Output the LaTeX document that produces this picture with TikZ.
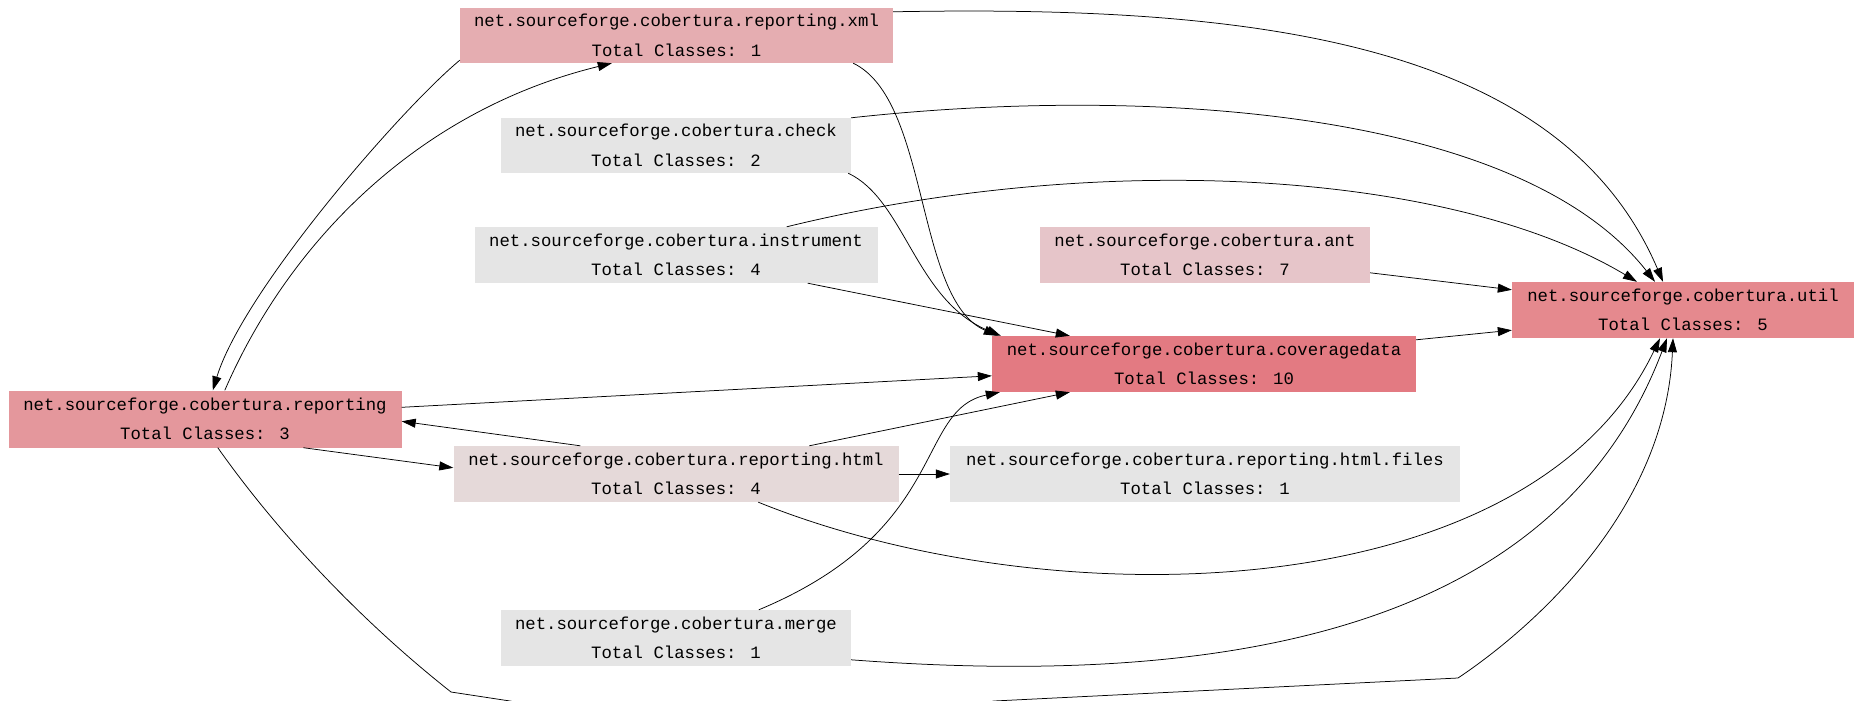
\documentclass[tikz,border=0pt]{standalone}
\usepackage{fontspec}
\newfontfamily\gvmono{Liberation Mono}
\usetikzlibrary{arrows.meta,calc}
\definecolor{cxml}{HTML}{E5ADB1}
\definecolor{cgrey}{HTML}{E5E5E5}
\definecolor{cant}{HTML}{E6C5C9}
\definecolor{cutil}{HTML}{E5898E}
\definecolor{ccov}{HTML}{E37A82}
\definecolor{crep}{HTML}{E4979C}
\definecolor{chtml}{HTML}{E5D9D9}
\begin{document}
\begin{tikzpicture}[x=1pt,y=-1pt,
  pkg/.style={rectangle, inner sep=0pt, minimum height=56pt, align=center,
    text=black, font={\gvmono\fontsize{17.3}{29.5}\selectfont}},
  dep/.style={draw=black, line width=0.75pt, -{Triangle[length=14pt,width=9pt]}}]
\clip (0,0) rectangle (1855,701);
\fill[white] (0,0) rectangle (1855,701);

\node[pkg, fill=cxml, minimum width=433pt, minimum height=55pt] (xml) at (676.5,35.5)
  {net.sourceforge.cobertura.reporting.xml\\Total Classes: 1};
\node[pkg, fill=cgrey, minimum width=350pt, minimum height=55pt] (check) at (676,145.5)
  {net.sourceforge.cobertura.check\\Total Classes: 2};
\node[pkg, fill=cgrey, minimum width=403pt] (instrument) at (676,255)
  {net.sourceforge.cobertura.instrument\\Total Classes: 4};
\node[pkg, fill=cant, minimum width=330pt] (ant) at (1205,255)
  {net.sourceforge.cobertura.ant\\Total Classes: 7};
\node[pkg, fill=cutil, minimum width=342pt] (util) at (1683,310)
  {net.sourceforge.cobertura.util\\Total Classes: 5};
\node[pkg, fill=ccov, minimum width=424pt] (cov) at (1204,364)
  {net.sourceforge.cobertura.coveragedata\\Total Classes: 10};
\node[pkg, fill=crep, minimum width=393pt, minimum height=57pt] (reporting) at (205,419)
  {net.sourceforge.cobertura.reporting\\Total Classes: 3};
\node[pkg, fill=chtml, minimum width=445pt] (html) at (676,474)
  {net.sourceforge.cobertura.reporting.html\\Total Classes: 4};
\node[pkg, fill=cgrey, minimum width=510pt] (files) at (1205,474)
  {net.sourceforge.cobertura.reporting.html.files\\Total Classes: 1};
\node[pkg, fill=cgrey, minimum width=350pt] (merge) at (676,638)
  {net.sourceforge.cobertura.merge\\Total Classes: 1};

% xml -> util
\draw[dep] ($(xml.north east)+(0,4)$) .. controls (1250,5) and (1560,40) .. ($(util.north)+(-20,0)$);
% xml -> coveragedata
\draw[dep] ($(xml.south east)+(-40,0)$) .. controls (930,100) and (915,300) .. ($(cov.north west)+(6,0)$);
% check -> util
\draw[dep] (check.north east) .. controls (1150,85) and (1520,110) .. ($(util.north)+(-28,0)$);
% check -> coveragedata
\draw[dep] ($(check.south east)+(-3,0)$) .. controls (905,200) and (915,300) .. ($(cov.north west)+(9,0)$);
% instrument -> util
\draw[dep] ($(instrument.north east)+(-91,0)$) .. controls (1100,150) and (1450,170) .. ($(util.north)+(-46,0)$);
% instrument -> coveragedata
\draw[dep] ($(instrument.south east)+(-70,0)$) -- ($(cov.north west)+(78,0)$);
% ant -> util
\draw[dep] ($(ant.north east)+(0,46)$) -- ($(util.north west)+(0,8)$);
% coveragedata -> util
\draw[dep] ($(cov.north east)+(0,4)$) -- ($(util.south west)+(0,-8)$);
% reporting -> coveragedata
\draw[dep] ($(reporting.north east)+(0,17)$) -- ($(cov.north west)+(0,40)$);
% html -> reporting
\draw[dep] ($(html.north west)+(127,0)$) -- ($(reporting.north east)+(0,31)$);
% reporting -> html
\draw[dep] ($(reporting.south west)+(295,0)$) -- ($(html.north west)+(0,22)$);
% html -> coveragedata
\draw[dep] ($(html.north west)+(356,0)$) -- ($(cov.south west)+(78,0)$);
% html -> html.files
\draw[dep] (html.east) -- (files.west);
% html -> util
\draw[dep] ($(html.south west)+(305,0)$) .. controls (1050,620) and (1530,610) .. ($(util.south)+(-23,0)$);
% merge -> coveragedata
\draw[dep] ($(merge.north west)+(258,0)$) .. controls (950,530) and (915,410) .. ($(cov.south west)+(8,0)$);
% merge -> util
\draw[dep] ($(merge.north east)+(0,50)$) .. controls (1250,690) and (1560,620) .. ($(util.south)+(-16,0)$);
% reporting -> util
\draw[dep] ($(reporting.south west)+(209.5,0)$) .. controls (278,533) and (361,621) .. (451,692)
  -- (510,701) .. controls (650,730) and (850,730) .. (994,701) -- (1458,678)
  .. controls (1518,638) and (1665,520) .. ($(util.south)+(-10,0)$);
% xml -> reporting
\draw[dep] ($(xml.south west)+(0,-3)$) .. controls (400,110) and (243,291) .. ($(reporting.north west)+(204.5,0)$);
% reporting -> xml
\draw[dep] ($(reporting.north west)+(216.5,0)$) .. controls (290,240) and (420,110) .. ($(xml.south west)+(152,0)$);
\end{tikzpicture}
\end{document}
